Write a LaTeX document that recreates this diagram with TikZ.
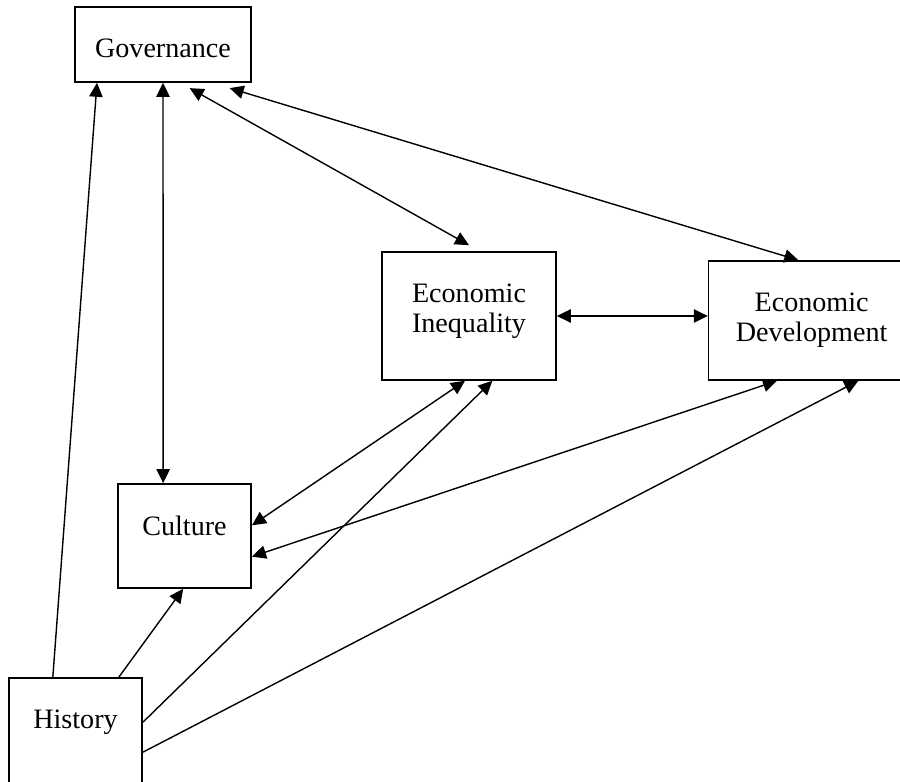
\documentclass[tikz,border=0pt]{standalone}
\usepackage{fontspec}
\setmainfont{Liberation Serif}
\usetikzlibrary{positioning, arrows.meta}
\tikzset{
  box/.style={rectangle, draw, line width=0.7pt, inner sep=0pt},
  boxtext/.style={anchor=north, inner sep=0pt, yshift=-0.49cm, align=center, font=\fontsize{12}{12.8}\selectfont},
  oneway/.style={-{Triangle[length=0.21cm, width=0.2cm]}, line width=0.6pt},
  twoway/.style={{Triangle[length=0.21cm, width=0.2cm]}-{Triangle[length=0.21cm, width=0.2cm]}, line width=0.6pt},
}

\begin{document}
\begin{tikzpicture}
  \useasboundingbox (0,0) rectangle (13.5,11.73);
  \clip (0,0) rectangle (13.5,11.73);

  % Boxes
  \node[box, minimum width=2.64cm, minimum height=1.125cm,
        label={[boxtext, name=govtext]north:Governance}] (gov) at (2.445,11.0625) {};
  \node[box, minimum width=2.61cm, minimum height=1.92cm,
        label={[boxtext, name=ineqtext]north:Economic\\Inequality}] (ineq) at (7.035,6.99) {};
  \node[box, minimum width=3.09cm, minimum height=1.785cm, right=2.265cm of ineq.south east, anchor=south west,
        label={[boxtext, name=devtext]north:Economic\\Development}] (dev) {};
  \node[box, minimum width=2.0cm, minimum height=1.56cm,
        label={[boxtext, name=culttext]north:Culture}] (cult) at (2.7675,3.69) {};
  \node[box, minimum width=2.0cm, minimum height=1.605cm,
        label={[boxtext, name=histtext]north:History}] (hist) at (1.1325,0.7575) {};

  % History drives everything
  \draw[oneway] ([xshift=-0.34cm]hist.north) -- ([xshift=-0.99cm]gov.south);
  \draw[oneway] ([xshift=0.65cm]hist.north) -- ([xshift=-0.02cm]cult.south);
  \draw[oneway] ([yshift=0.14cm]hist.east) -- ([xshift=0.35cm]ineq.south);
  \draw[oneway] ([yshift=-0.31cm]hist.east) -- ([xshift=0.7cm]dev.south);

  % Two-way links
  \draw[twoway] (gov.south) -- ([xshift=-0.32cm]cult.north);
  \draw[twoway] ([xshift=0.4cm, yshift=-0.08cm]gov.south) -- ([yshift=0.09cm]ineq.north);
  \draw[twoway] ([xshift=1.0cm, yshift=-0.08cm]gov.south) -- ([xshift=-0.2cm]dev.north);
  \draw[twoway] (ineq.east) -- (ineq.east -| dev.west);
  \draw[twoway] ([xshift=-0.06cm]ineq.south) -- ([yshift=0.16cm]cult.east);
  \draw[twoway] ([xshift=-0.52cm]dev.south) -- ([yshift=-0.31cm]cult.east);

\end{tikzpicture}
\end{document}
